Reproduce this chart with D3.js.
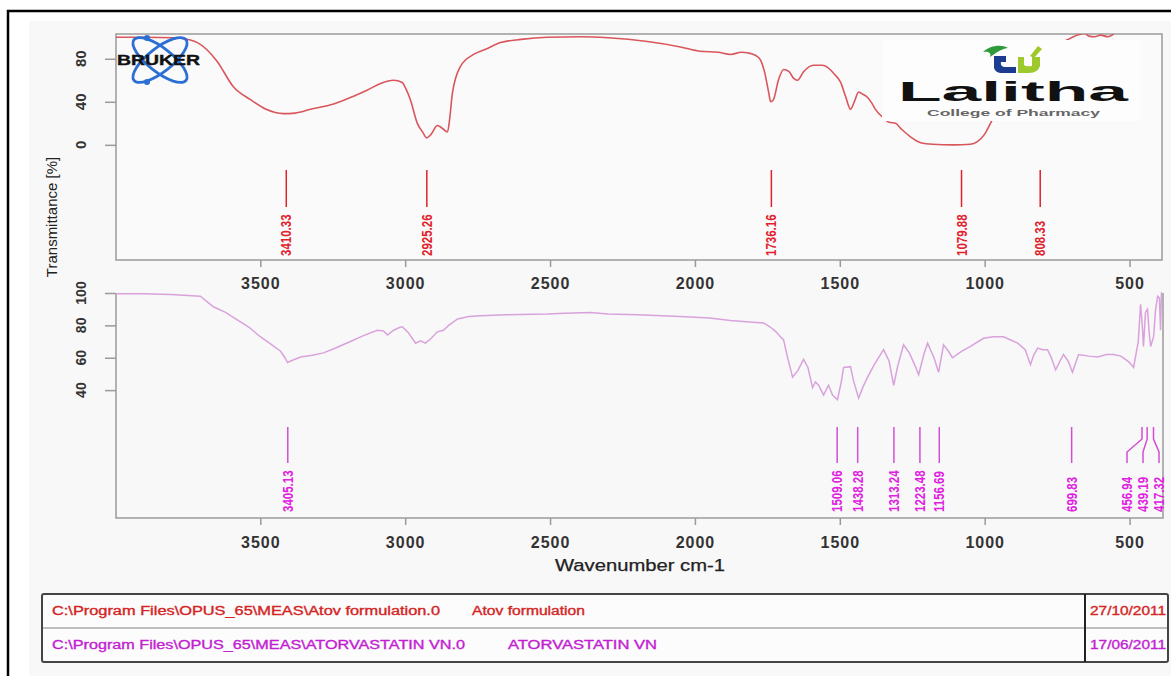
<!DOCTYPE html>
<html>
<head>
<meta charset="utf-8">
<script src="https://cdn.jsdelivr.net/npm/d3@7"></script>
<style>
  html, body { margin: 0; padding: 0; background: #ffffff; }
  svg { display: block; }
  text { font-family: "Liberation Sans", Arial, sans-serif; }
</style>
</head>
<body>
<svg id="chart" width="1171" height="676"></svg>
<script>
// ---------------- DATA ----------------
const xTickValues = [3500, 3000, 2500, 2000, 1500, 1000, 500];
const topYTicks = [0, 40, 80];
const bottomYTicks = [40, 60, 80, 100];

// Sample 1: Atov formulation (wavenumber cm-1, transmittance %)
const topWave = [3998,3900,3800,3776,3717,3650,3593,3534,3480,3420,3380,3327,3247,3180,3130,3085,3040,3010,2999,2982,2958,2940,2926,2910,2889,2870,2854,2846,2837,2809,2764,2720,2671,2600,2509,2395,2300,2164,2050,1981,1920,1877,1840,1818,1790,1774,1760,1745,1739,1729,1712,1694,1675,1660,1646,1625,1591,1560,1542,1520,1497,1480,1463,1450,1435,1420,1404,1390,1377,1349,1330,1308,1285,1256,1221,1180,1107,1050,1025,1000,980,940,900,850,800,760,720,697,680,655,640,620,600,575,560,545,520,480,388];
const topT    = [100,100,99.5,99,95,78,54,42,33,29,29.5,33,38,45,51,57,60,58,53,42,20,12,6.5,10,18,15,12,25,48,73,84,89,95,98,100,100.5,99.5,96,91,87,86,84,86,85.5,83,79,68,48,40,42,60,70,68,62,60,68,74,74,72,66,58,45,33,40,49,47,44,39,33,25,21,20,14,7.5,2,0.5,0,0.5,3,10,20,42,62,78,88,94,97,100,102,103.5,101,100.5,102,100.5,102,106,109,111,111];
const topPeaks = [3410.33, 2925.26, 1736.16, 1079.88, 808.33];

// Sample 2: ATORVASTATIN VN
const botWave = [3998,3900,3810,3750,3707,3662,3620,3593,3540,3500,3460,3430,3415,3406,3395,3361,3320,3282,3240,3189,3140,3096,3075,3061,3040,3016,3009,2989,2964,2947,2930,2910,2889,2868,2850,2819,2780,2740,2650,2509,2450,2360,2300,2200,2050,1950,1877,1800,1763,1740,1720,1705,1694,1680,1663,1645,1625,1610,1594,1584,1573,1556,1539,1525,1508,1495,1487,1463,1453,1435,1420,1404,1380,1349,1330,1314,1300,1280,1260,1240,1228,1210,1197,1175,1159,1142,1125,1111,1080,1049,1004,970,935,910,886,860,842,830,817,800,783,770,755,740,728,712,697,676,640,610,580,555,530,514,500,486,470,462,456,452,445,438,432,427,422,417,410,403,397,393,390,388];
const botT    = [99.5,99.5,99,98.5,98,91.5,88,85,79,73,68,64,60,57,58,60.5,61.5,63,66,70,74,77,76.5,74,77,79,79,75.5,69,70.5,69,72,76,77,80,84,85.5,86,86.5,87,87.5,88,87,86.5,85.5,84.5,83,82,81.5,79,76,73,71,60,48,52,59,54,41.5,45,43,37,43,37,34,45,54,54.5,46,35,42,48,56,65,58,43,55,68,63,55,49.5,62,69,60,51,68,64,60,64,67,72,73,73,71,69,65,55.7,62,66,65,65,60,52.5,58,62,58,51,62,61,60.5,62,62,61,59,57,54,70,93,80,67,88,90,75,67,70,73,90,98,97,77,100,100];
const botPeaks = [3405.13, 1509.06, 1438.28, 1313.24, 1223.48, 1156.69, 699.83, 456.94, 439.19, 417.32];

const tableRows = [
  { path: "C:\\Program Files\\OPUS_65\\MEAS\\Atov formulation.0", name: "Atov formulation", date: "27/10/2011" },
  { path: "C:\\Program Files\\OPUS_65\\MEAS\\ATORVASTATIN VN.0", name: "ATORVASTATIN VN", date: "17/06/2011" }
];

// ---------------- STYLE ----------------
const C = {
  topLine: "#d9565c", topLabel: "#e2202c",
  botLine: "#d9a2dc", botLabel: "#e020e0", botLead: "#d24fd4",
  axis: "#9a9a9a", tick: "#333333",
  row: ["#d42424", "#c21fd2"]
};

const svg = d3.select("#chart");

// background & frame
svg.append("rect").attr("x", 29).attr("y", 21).attr("width", 1142).attr("height", 655).attr("fill", "#f8f8f8");
svg.append("path").attr("d", "M8,676V11H1171").attr("fill", "none").attr("stroke", "#000").attr("stroke-width", 2.5);

// scales
const x = d3.scaleLinear().domain([3998, 388]).range([116, 1162]);
const yTop = d3.scaleLinear().domain([-107, 103]).range([260, 34]);
const yBot = d3.scaleLinear().domain([-39, 100]).range([518, 293]);

// clip paths
const defs = svg.append("defs");
defs.append("clipPath").attr("id", "clipTop").append("rect")
  .attr("x", 116).attr("y", 34).attr("width", 1046).attr("height", 226);
defs.append("clipPath").attr("id", "clipBot").append("rect")
  .attr("x", 116).attr("y", 288).attr("width", 1047).attr("height", 230);

// ---------- TOP PANEL ----------
svg.append("rect").attr("x", 116).attr("y", 34).attr("width", 1046).attr("height", 226)
  .attr("fill", "#fafafa").attr("stroke", C.axis).attr("stroke-width", 1.5);

const topData = topWave.map((w, i) => [w, topT[i]]);
const botData = botWave.map((w, i) => [w, botT[i]]);

svg.append("path").datum(topData)
  .attr("clip-path", "url(#clipTop)")
  .attr("fill", "none").attr("stroke", C.topLine).attr("stroke-width", 1.6)
  .attr("d", d3.line().x(d => x(d[0])).y(d => yTop(d[1])).curve(d3.curveMonotoneX));

// x axis for top panel
const gxTop = svg.append("g").attr("transform", "translate(0,260)")
  .call(d3.axisBottom(x).tickValues(xTickValues).tickSize(7).tickPadding(11).tickFormat(d3.format("d")));
// y axis top
const gyTop = svg.append("g").attr("transform", "translate(116,0)")
  .call(d3.axisLeft(yTop).tickValues(topYTicks).tickSize(11).tickFormat(""));

// ---------- BOTTOM PANEL ----------
svg.append("path").attr("d", `M${x.range()[0]},293V518H1163V293`)
  .attr("fill", "none").attr("stroke", C.axis).attr("stroke-width", 1.5);

svg.append("path").datum(botData)
  .attr("clip-path", "url(#clipBot)")
  .attr("fill", "none").attr("stroke", C.botLine).attr("stroke-width", 1.5)
  .attr("d", d3.line().x(d => x(d[0])).y(d => yBot(d[1])));

const gxBot = svg.append("g").attr("transform", "translate(0,518)")
  .call(d3.axisBottom(x).tickValues(xTickValues).tickSize(7).tickPadding(12).tickFormat(d3.format("d")));
const gyBot = svg.append("g").attr("transform", "translate(116,0)")
  .call(d3.axisLeft(yBot).tickValues(bottomYTicks).tickSize(11).tickFormat(""));

// style axes
[gxTop, gyTop, gxBot, gyBot].forEach(g => {
  g.select(".domain").remove();
  g.selectAll(".tick line").attr("stroke", C.axis).attr("stroke-width", 1.5);
  g.selectAll(".tick text")
    .attr("fill", C.tick).attr("font-size", 16).attr("font-weight", "bold")
    .attr("letter-spacing", "1px");
});

// rotated y tick labels
svg.append("g").selectAll("text").data(topYTicks).join("text")
  .attr("transform", d => `translate(86,${yTop(d)}) rotate(-90)`)
  .attr("text-anchor", "middle").attr("font-size", 15).attr("font-weight", "bold")
  .attr("fill", C.tick).text(d => d);
svg.append("g").selectAll("text").data(bottomYTicks).join("text")
  .attr("transform", d => `translate(86,${yBot(d)}) rotate(-90)`)
  .attr("text-anchor", "middle").attr("font-size", 14).attr("font-weight", "bold")
  .attr("fill", C.tick).text(d => d);

// axis titles
svg.append("text").attr("transform", "translate(57,217) rotate(-90)")
  .attr("text-anchor", "middle").attr("font-size", 15).attr("fill", "#222")
  .text("Transmittance [%]");
svg.append("text").attr("x", 555).attr("y", 571)
  .attr("font-size", 16).attr("fill", "#222").attr("stroke", "#222").attr("stroke-width", 0.25)
  .attr("textLength", 170).attr("lengthAdjust", "spacingAndGlyphs")
  .text("Wavenumber cm-1");

// ---------- PEAK LABELS ----------
const fmt = d => d.toFixed(2);
// top
const gTP = svg.append("g");
gTP.selectAll("line").data(topPeaks).join("line")
  .attr("x1", d => x(d)).attr("x2", d => x(d)).attr("y1", 170).attr("y2", 207)
  .attr("stroke", C.topLabel).attr("stroke-width", 1.5);
gTP.selectAll("text").data(topPeaks).join("text")
  .attr("transform", d => `translate(${x(d) + 5},256) rotate(-90) scale(1,1.2)`)
  .attr("font-size", 11.5).attr("font-weight", "bold").attr("fill", C.topLabel).text(fmt);

// bottom: spread crowded labels
const minGap = 16, rightLimit = 1159;
const bx = botPeaks.map(d => x(d));
const groups = [];
bx.forEach((v, i) => {
  const last = groups[groups.length - 1];
  if (last && v - bx[last[last.length - 1]] < minGap) last.push(i); else groups.push([i]);
});
const lx = bx.slice();
groups.forEach(g => {
  if (g.length < 2) return;
  const mean = d3.mean(g, i => bx[i]);
  g.forEach((i, k) => { lx[i] = mean + (k - (g.length - 1) / 2) * minGap; });
  const over = lx[g[g.length - 1]] - rightLimit;
  if (over > 0) g.forEach(i => { lx[i] -= over; });
});
const gBP = svg.append("g");
gBP.selectAll("path").data(botPeaks).join("path")
  .attr("d", (d, i) => Math.abs(lx[i] - bx[i]) < 0.5
      ? `M${bx[i]},427V463`
      : `M${bx[i]},427V439L${lx[i]},452V463`)
  .attr("fill", "none").attr("stroke", C.botLead).attr("stroke-width", 1.5);
gBP.selectAll("text").data(botPeaks).join("text")
  .attr("transform", (d, i) => `translate(${lx[i] + 5},512) rotate(-90) scale(1,1.2)`)
  .attr("font-size", 11.5).attr("font-weight", "bold").attr("fill", C.botLabel).text(fmt);

// ---------- LOGOS ----------
// BRUKER
const gB = svg.append("g");
[38, -38].forEach(a => {
  gB.append("ellipse").attr("cx", 160).attr("cy", 60).attr("rx", 33).attr("ry", 12)
    .attr("transform", `rotate(${a},160,60)`)
    .attr("fill", "none").attr("stroke", "#2b6fd4").attr("stroke-width", 2.8);
});
gB.append("circle").attr("cx", 147).attr("cy", 38).attr("r", 3).attr("fill", "#2b6fd4");
gB.append("circle").attr("cx", 147).attr("cy", 82).attr("r", 3).attr("fill", "#2b6fd4");
gB.append("text").attr("x", 117).attr("y", 65).attr("font-size", 15).attr("font-weight", "bold")
  .attr("font-family", "DejaVu Sans, sans-serif")
  .attr("textLength", 83).attr("lengthAdjust", "spacingAndGlyphs")
  .attr("fill", "#111").attr("stroke", "#111").attr("stroke-width", 0.4).text("BRUKER");

// Lalitha
const gL = svg.append("g");
gL.append("rect").attr("x", 882).attr("y", 40).attr("width", 258).attr("height", 81).attr("fill", "#fdfdfd");
gL.append("path").attr("d", "M983,52 C990,45 1002,44 1008,48 C1000,49 995,54 990,57 C992,53 988,51 983,52 Z").attr("fill", "#2f9a3a");
gL.append("path").attr("d", "M994,56 H1006 V62 H1001 Q1000,66 1004,67 H1016 V73 H1000 Q993,72 994,64 Z").attr("fill", "#1c3d8f");
gL.append("path").attr("d", "M1018,57 H1024 V65 Q1026,67 1032,66 V57 H1040 V66 Q1038,73 1029,73 H1018 Z").attr("fill", "#9dc92c");
gL.append("path").attr("d", "M1030,56 L1038,46 L1042,49 L1034,58 Z").attr("fill", "#9dc92c");
gL.append("text").attr("x", 898).attr("y", 101).attr("font-size", 28)
  .attr("font-family", "DejaVu Serif, serif").attr("font-weight", "bold")
  .attr("textLength", 230).attr("lengthAdjust", "spacingAndGlyphs")
  .attr("fill", "#111").text("Lalitha");
gL.append("text").attr("x", 927).attr("y", 116).attr("font-size", 9.5).attr("font-weight", "bold")
  .attr("textLength", 173).attr("lengthAdjust", "spacingAndGlyphs")
  .attr("fill", "#666").text("College of Pharmacy");

// ---------- TABLE ----------
const gT = svg.append("g");
gT.append("rect").attr("x", 42).attr("y", 594).attr("width", 1126).attr("height", 68).attr("rx", 2)
  .attr("fill", "#fcfcfc").attr("stroke", "#444").attr("stroke-width", 2);
gT.append("line").attr("x1", 43).attr("x2", 1167).attr("y1", 628).attr("y2", 628)
  .attr("stroke", "#aaa").attr("stroke-width", 1.5);
gT.append("line").attr("x1", 1085).attr("x2", 1085).attr("y1", 594).attr("y2", 662)
  .attr("stroke", "#222").attr("stroke-width", 2);
const rowY = [615, 649];
const pathLen = [388, 413], nameX = [472, 508], nameLen = [113, 149];
tableRows.forEach((r, i) => {
  const t = (xx, len, s) => gT.append("text").attr("x", xx).attr("y", rowY[i])
    .attr("font-size", 12).attr("fill", C.row[i]).attr("stroke", C.row[i]).attr("stroke-width", 0.35)
    .attr("textLength", len).attr("lengthAdjust", "spacingAndGlyphs").text(s);
  t(52, pathLen[i], r.path);
  t(nameX[i], nameLen[i], r.name);
  t(1090, 76, r.date);
});
</script>
</body>
</html>
